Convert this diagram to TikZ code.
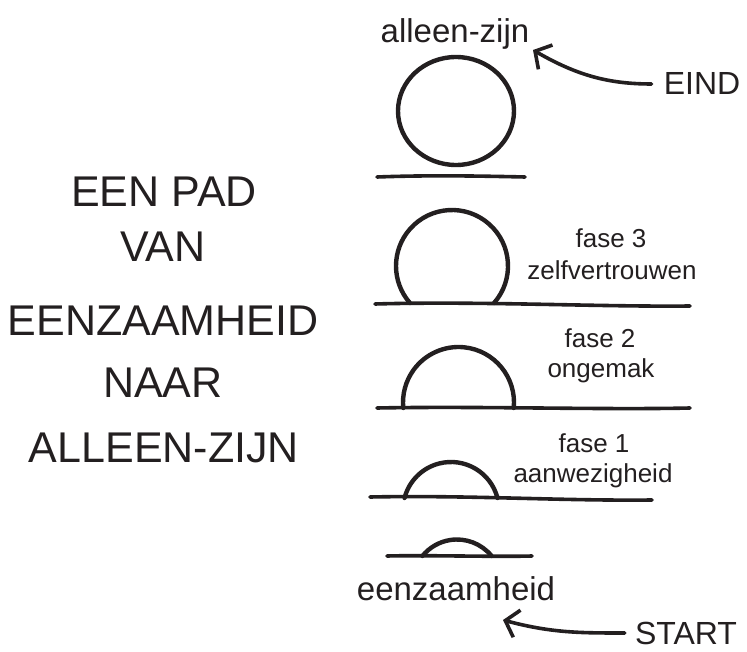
\documentclass[tikz,border=0pt]{standalone}
\usepackage{fontspec}
\setmainfont{Liberation Sans}
\usetikzlibrary{arrows.meta}
\definecolor{ink}{HTML}{231F20}
\tikzset{
  ink/.style={color=ink, text=ink},
  ground/.style={draw=ink, line width=3.6pt, line cap=round},
  ring/.style={draw=ink, line width=4.4pt, line cap=round},
  title/.style={ink, anchor=base, inner sep=0pt, font=\fontsize{43}{50}\selectfont},
  word/.style={ink, anchor=base, inner sep=2pt, font=\fontsize{33}{38}\selectfont},
  phase/.style={ink, anchor=base, inner sep=2pt, font=\fontsize{26}{30}\selectfont},
  tag/.style={ink, anchor=base, inner sep=2pt, font=\fontsize{32}{38}\selectfont},
  pointer/.style={draw=ink, line width=3.6pt, line cap=round,
    -{Straight Barb[length=12pt,width=28pt,line width=3.6pt]}}
}
\begin{document}
\begin{tikzpicture}[x=1pt,y=-1pt]
\useasboundingbox (0,0) rectangle (747,652);

% ---- title ----
\node[title] (t1) at (164,207) {EEN PAD};
\node[title] (t2) at (163,262) {VAN};
\node[title] (t3) at (163,335) {EENZAAMHEID};
\node[title] (t4) at (163,397) {NAAR};
\node[title] (t5) at (164,462) {ALLEEN-ZIJN};

% ---- end: full circle ----
\node[word] (alleen) at (455,43) {alleen-zijn};
\draw[ring] (456,111) ellipse[x radius=58, y radius=54];
\draw[ground] (377,177) .. controls (430,175) and (480,176) .. (525,177);

% ---- fase 3 ----
\draw[ring] ([shift={(41.4:56)}]452,266) arc[start angle=41.4, end angle=-221.4, radius=56];
\draw[ground] (375,304) .. controls (480,301) and (600,307) .. (690,306);
\node[phase] (f3) at (611,248) {fase 3};
\node[phase] (z3) at (612,280) {zelfvertrouwen};

% ---- fase 2 ----
\draw[ring] ([shift={(5.7:55.5)}]458.5,402.5) arc[start angle=5.7, end angle=-185.7, radius=55.5];
\draw[ground] (377,408) .. controls (480,406) and (600,410) .. (690,408);
\node[phase] (f2) at (600,348) {fase 2};
\node[phase] (o2) at (601,377) {ongemak};

% ---- fase 1 ----
\draw[ring] ([shift={(-14.5:48)}]451,510) arc[start angle=-14.5, end angle=-165.5, radius=48];
\draw[ground] (370,497) .. controls (470,495) and (560,501) .. (652,500);
\node[phase] (f1) at (594,452) {fase 1};
\node[phase] (a1) at (593,482) {aanwezigheid};

% ---- start ----
\draw[ring] ([shift={(-39:44.5)}]457,584) arc[start angle=-39, end angle=-141, radius=44.5];
\draw[ground] (387,556) .. controls (430,555) and (490,557) .. (532,556);
\node[word] (eenz) at (456,600) {eenzaamheid};

% ---- labels and pointers ----
\node[tag] (eind) at (702,95) {EIND};
\node[tag] (start) at (686,644) {START};
\coordinate (eindtip) at (533,50);
\coordinate (starttip) at (503,620);
\draw[pointer, shorten <=10pt] (eind.west) to[out=180, in=-30] (eindtip);
\draw[pointer, shorten <=8pt] (start.west) to[out=180, in=-15] (starttip);
\end{tikzpicture}
\end{document}
